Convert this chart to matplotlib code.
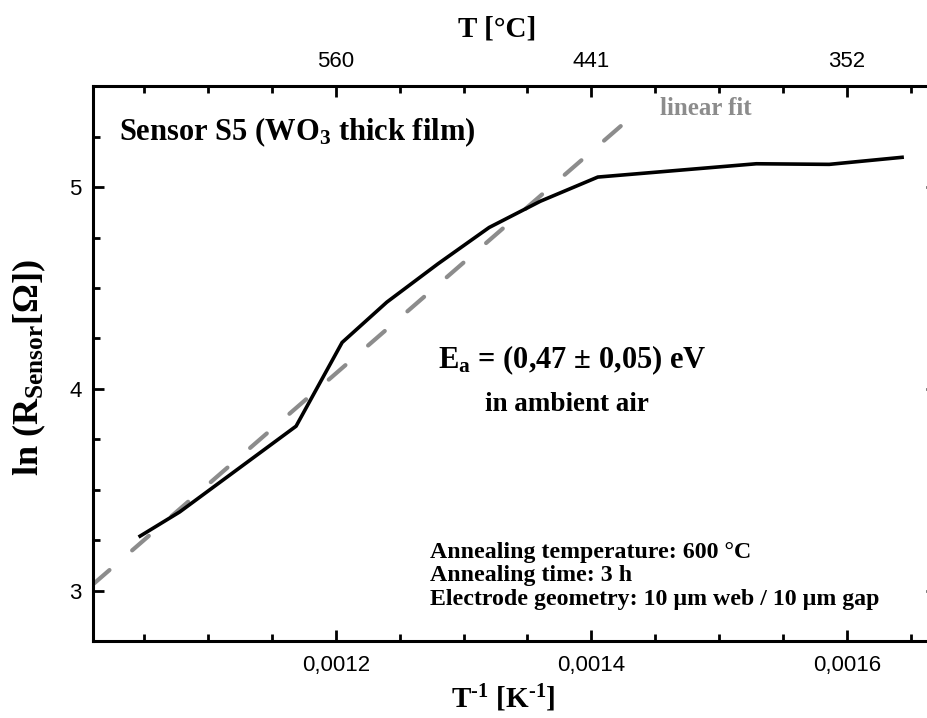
import matplotlib
matplotlib.use("Agg")
import matplotlib.pyplot as plt

# data
inv_T = [0.001047, 0.001078, 0.001169, 0.001205, 0.00124, 0.00128, 0.00132,
         0.00136, 0.001405, 0.001529, 0.001586, 0.001643]
ln_R = [3.27, 3.39, 3.815, 4.23, 4.43, 4.62, 4.80, 4.93, 5.05, 5.116, 5.113, 5.148]

fit_x = [0.00101, 0.001437]
fit_y = [3.03, 5.38]

x_ticks = [0.0012, 0.0014, 0.0016]
x_ticklabels = ["0,0012", "0,0014", "0,0016"]
top_ticklabels = ["560", "441", "352"]
y_ticks = [3, 4, 5]

notes = ["Annealing temperature: 600 °C",
         "Annealing time: 3 h",
         "Electrode geometry: 10 µm web / 10 µm gap"]

plt.rcParams['mathtext.fontset'] = 'custom'
plt.rcParams['mathtext.rm'] = 'Liberation Serif:bold'
plt.rcParams['mathtext.it'] = 'Liberation Serif:bold'
plt.rcParams['mathtext.bf'] = 'Liberation Serif:bold'
plt.rcParams['mathtext.default'] = 'rm'

W, H = 928, 718
fig = plt.figure(figsize=(W / 100, H / 100), dpi=100)
# right spine sits just outside the picture in the reference
ax = fig.add_axes([92.8 / W, 1 - 641 / H, (936.6 - 92.8) / W, (641 - 85.7) / H])

ax.plot(inv_T, ln_R, color='black', lw=2.6, solid_joinstyle='round', zorder=3)
fit, = ax.plot(fit_x, fit_y, color='#8c8c8c', lw=3.0, dash_capstyle='round', zorder=2)
fit.set_dashes([5.3, 7.2])

ax.set_xlim(0.00101, 0.00167)
ax.set_ylim(2.853, 5.503)

tick_font = dict(family='Liberation Sans', size=16)
minor_x = [0.00105 + 0.00005 * i for i in range(13)]
ax.set_xticks(x_ticks)
ax.set_xticklabels(x_ticklabels, **tick_font)
ax.set_xticks(minor_x, minor=True)
ax.set_yticks(y_ticks)
ax.set_yticklabels([str(v) for v in y_ticks], **tick_font)
ax.set_yticks([2.75 + 0.25 * i for i in range(12)], minor=True)

ax.tick_params(which='both', direction='in', top=True, right=True, width=2)
ax.tick_params(which='major', length=8)
ax.tick_params(which='minor', length=5)
ax.tick_params(axis='x', pad=10)
ax.tick_params(axis='y', pad=8)
for s in ax.spines.values():
    s.set_linewidth(2.2)

top = ax.twiny()
top.set_xlim(ax.get_xlim())
top.set_xticks(x_ticks)
top.set_xticklabels(top_ticklabels, **tick_font)
top.set_xticks(minor_x, minor=True)
top.tick_params(which='both', direction='in', width=2, pad=10)
top.tick_params(which='major', length=8)
top.tick_params(which='minor', length=5)

serif = dict(family='Liberation Serif', weight='bold')

def ftext(x, y, s, size, **kw):
    fig.text(x / W, 1 - y / H, s, fontsize=size, **serif, **kw)

ftext(497, 37, "T [°C]", 21, ha='center', va='baseline')
ftext(503, 708, "T$^{\u2010\\mathrm{1}}$ [K$^{\u2010\\mathrm{1}}$]", 21, ha='center', va='baseline')
fig.text(29 / W, 1 - 368 / H, r"ln (R$_{\mathrm{Sensor}}$[Ω])", fontsize=26,
         rotation=90, ha='center', va='center', **serif)

ftext(119, 140, r"Sensor S5 (WO$_{\mathrm{3}}$ thick film)", 22, ha='left', va='baseline')
ftext(660, 115, "linear fit", 18, ha='left', va='baseline', color='#8c8c8c')
ftext(438, 368, r"E$_{\mathrm{a}}$ = (0,47 ± 0,05) eV", 22, ha='left', va='baseline')
ftext(567, 411, "in ambient air", 19.5, ha='center', va='baseline')
for i, line in enumerate(notes):
    ftext(430, 558 + 23.5 * i, line, 17.2, ha='left', va='baseline')

fig.savefig("out.png", dpi=100)
